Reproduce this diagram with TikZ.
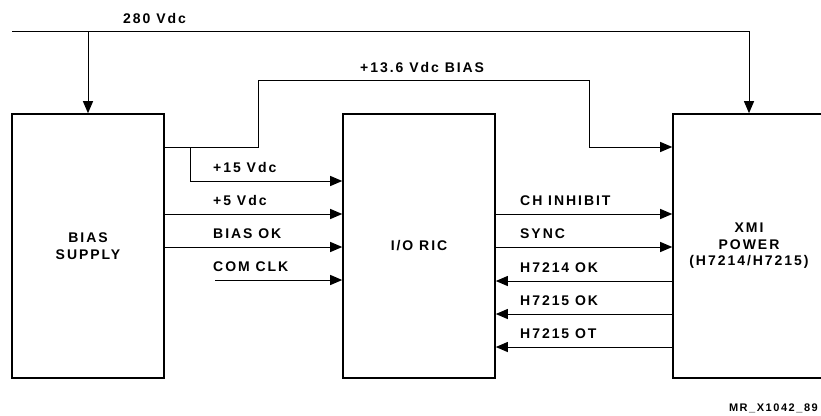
\documentclass[tikz,border=0pt]{standalone}
\usepackage{fontspec}
\setmainfont{Liberation Sans}[LetterSpace=14]
\usetikzlibrary{arrows.meta,positioning}

\begin{document}
\begin{tikzpicture}[
  x=1pt,y=-1pt,
  font=\fontsize{14}{16.5}\selectfont\bfseries,
  unitbox/.style={draw,line width=1.6pt,minimum width=152pt,minimum height=264pt,align=center,inner sep=0pt},
  sigarrow/.style={-{Triangle[length=12pt,width=10pt]},line width=1pt},
  siglabel/.style={anchor=base west,inner sep=0pt}
]
  \useasboundingbox (0,0) rectangle (821,415);
  \clip (0,0) rectangle (821,415);

  % blocks
  \node[unitbox] (bias) at (88,246) {BIAS\\SUPPLY};
  \node[unitbox] (ioric) at (419,246) {I/O RIC};
  \node[unitbox] (xmi) at (749,246) {XMI\\POWER\\(H7214/H7215)};

  % signal rows
  \coordinate (r0) at (0,147);
  \coordinate (r1) at (0,181);
  \coordinate (r2) at (0,214);
  \coordinate (r3) at (0,247);
  \coordinate (r4) at (0,281);
  \coordinate (r5) at (0,314);
  \coordinate (r6) at (0,347);

  % 280 Vdc feed
  \coordinate (feed) at (12,31);
  \draw[sigarrow] (feed) -| (xmi.north);
  \draw[sigarrow] (bias.north |- feed) -- (bias.north);
  \node[siglabel] (l280) at (123,23) {280 Vdc};

  % +13.6 Vdc bias
  \coordinate (biasjog) at (258,80);
  \coordinate (biasdrop) at (589,147);
  \coordinate (tap15) at (190,147);
  \draw[sigarrow] (bias.east |- r0) -| (biasjog) -| (biasdrop) -- (xmi.west |- r0);
  \node[siglabel] (l136) at (360,72) {+13.6 Vdc BIAS};

  % bias supply to I/O RIC
  \draw[sigarrow] (tap15) |- (ioric.west |- r1);
  \draw[sigarrow] (bias.east |- r2) -- (ioric.west |- r2);
  \draw[sigarrow] (bias.east |- r3) -- (ioric.west |- r3);
  \coordinate (clkin) at (215,280);
  \draw[sigarrow] (clkin) -- (ioric.west |- clkin);
  \node[siglabel] (l15) at (213,172) {+15 Vdc};
  \node[siglabel] (l5) at (213,205) {+5 Vdc};
  \node[siglabel] (lbok) at (213,238) {BIAS OK};
  \node[siglabel] (lclk) at (213,271) {COM CLK};

  % I/O RIC to XMI power
  \draw[sigarrow] (ioric.east |- r2) -- (xmi.west |- r2);
  \draw[sigarrow] (ioric.east |- r3) -- (xmi.west |- r3);
  \draw[sigarrow] (xmi.west |- r4) -- (ioric.east |- r4);
  \draw[sigarrow] (xmi.west |- r5) -- (ioric.east |- r5);
  \draw[sigarrow] (xmi.west |- r6) -- (ioric.east |- r6);
  \node[siglabel] (linh) at (520,205) {CH INHIBIT};
  \node[siglabel] (lsync) at (520,238) {SYNC};
  \node[siglabel] (l14ok) at (520,272) {H7214 OK};
  \node[siglabel] (l15ok) at (520,305) {H7215 OK};
  \node[siglabel] (l15ot) at (520,338) {H7215 OT};

  \node[siglabel,anchor=base east,font=\fontsize{11}{13}\selectfont\bfseries] (tag) at (818,411) {MR\_X1042\_89};
\end{tikzpicture}
\end{document}
